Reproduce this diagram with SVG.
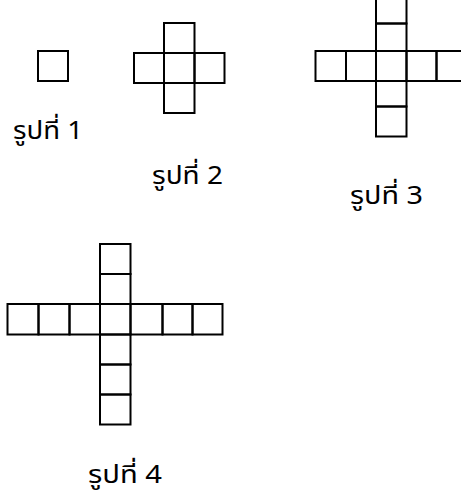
<svg xmlns="http://www.w3.org/2000/svg" width="461" height="494" viewBox="0 0 461 494">
<style>
.c{fill:none;stroke:#000;stroke-width:2}
.t{font-family:"Noto Sans Thai","Noto Sans","DejaVu Sans",sans-serif;font-size:25px;fill:#000}
</style>
<rect width="461" height="494" fill="#fff"/>
<g id="fig1">
<rect class="c" x="38" y="51" width="30" height="30"/>
</g>
<g id="fig2">
<rect class="c" x="164" y="23" width="30.5" height="30"/>
<rect class="c" x="134" y="53" width="30" height="30"/>
<rect class="c" x="164" y="53" width="30.5" height="30"/>
<rect class="c" x="194.5" y="53" width="30" height="30"/>
<rect class="c" x="164" y="83" width="30.5" height="30"/>
</g>
<g id="fig3">
<rect class="c" x="376" y="-6" width="30.5" height="29.5"/>
<rect class="c" x="376" y="23.5" width="30.5" height="27.5"/>
<rect class="c" x="315.5" y="51" width="30.5" height="30"/>
<rect class="c" x="346" y="51" width="30" height="30"/>
<rect class="c" x="376" y="51" width="30.5" height="30"/>
<rect class="c" x="406.5" y="51" width="30" height="30"/>
<rect class="c" x="436.5" y="51" width="30" height="30"/>
<rect class="c" x="376" y="81" width="30.5" height="25.5"/>
<rect class="c" x="376" y="106.5" width="30.5" height="30"/>
</g>
<g id="fig4">
<rect class="c" x="100" y="244" width="30.5" height="30"/>
<rect class="c" x="100" y="274" width="30.5" height="30"/>
<rect class="c" x="7.5" y="304" width="31" height="30.5"/>
<rect class="c" x="38.5" y="304" width="31" height="30.5"/>
<rect class="c" x="69.5" y="304" width="30.5" height="30.5"/>
<rect class="c" x="100" y="304" width="30.5" height="30.5"/>
<rect class="c" x="130.5" y="304" width="32" height="30.5"/>
<rect class="c" x="162.5" y="304" width="30" height="30.5"/>
<rect class="c" x="192.5" y="304" width="30" height="30.5"/>
<rect class="c" x="100" y="334.5" width="30.5" height="30"/>
<rect class="c" x="100" y="364.5" width="30.5" height="30"/>
<rect class="c" x="100" y="394.5" width="30.5" height="30"/>
</g>
<g id="labels">
<text class="t" x="13" y="139" textLength="70" lengthAdjust="spacingAndGlyphs">รูปที่ 1</text>
<text class="t" x="152" y="184" textLength="71" lengthAdjust="spacingAndGlyphs">รูปที่ 2</text>
<text class="t" x="350" y="204" textLength="73" lengthAdjust="spacingAndGlyphs">รูปที่ 3</text>
<text class="t" x="88" y="483" textLength="74" lengthAdjust="spacingAndGlyphs">รูปที่ 4</text>
</g>
</svg>
